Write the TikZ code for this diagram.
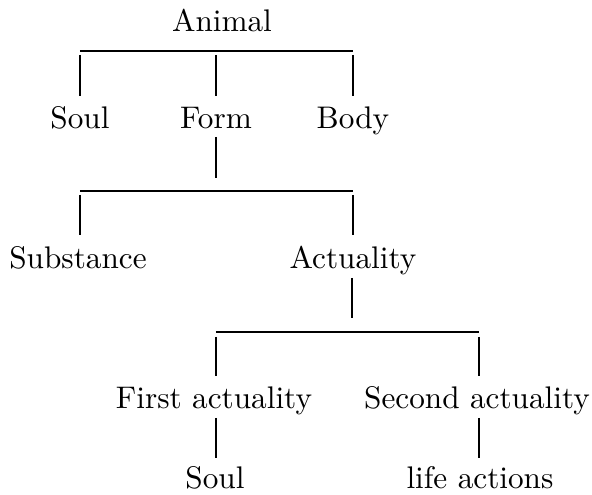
\documentclass[tikz,border=0pt]{standalone}
\begin{document}
\begin{tikzpicture}[x=0.32pt,y=-0.32pt,
  lbl/.style={anchor=base,inner sep=0pt,font=\fontsize{10}{12}\selectfont},
  conn/.style={line width=0.75pt,line cap=butt}]
\useasboundingbox (0,0) rectangle (592,495);
% labels
\node[lbl] (animal) at (222,32) {Animal};
\node[lbl] (soulA) at (80,129) {Soul};
\node[lbl] (form) at (216,129) {Form};
\node[lbl] (body) at (353,129) {Body};
\node[lbl] (subst) at (78,269) {Substance};
\node[lbl] (actual) at (353,269) {Actuality};
\node[lbl] (first) at (214,409) {First actuality};
\node[lbl] (second) at (477,409) {Second actuality};
\node[lbl] (soulB) at (215,489) {Soul};
\node[lbl] (life) at (480,489) {life actions};
% connector points
\coordinate (b1l) at (80,51);  \coordinate (b1r) at (353,51);
\coordinate (v1a) at (80,55);  \coordinate (v1ae) at (80,96);
\coordinate (v1b) at (216,55); \coordinate (v1be) at (216,96);
\coordinate (v1c) at (353,55); \coordinate (v1ce) at (353,96);
\coordinate (f1) at (216,137); \coordinate (f1e) at (216,178);
\coordinate (b2l) at (80,191); \coordinate (b2r) at (353,191);
\coordinate (v2a) at (80,195); \coordinate (v2ae) at (80,235);
\coordinate (v2b) at (353,195); \coordinate (v2be) at (353,235);
\coordinate (a1) at (352,278); \coordinate (a1e) at (352,318);
\coordinate (b3l) at (216,332); \coordinate (b3r) at (479,332);
\coordinate (v3a) at (216,337); \coordinate (v3ae) at (216,376);
\coordinate (v3b) at (479,337); \coordinate (v3be) at (479,376);
\coordinate (s1) at (216,418); \coordinate (s1e) at (216,458);
\coordinate (s2) at (479,418); \coordinate (s2e) at (479,458);
% connectors
\draw[conn] (b1l) -- (b1r);
\draw[conn] (v1a) -- (v1ae);
\draw[conn] (v1b) -- (v1be);
\draw[conn] (v1c) -- (v1ce);
\draw[conn] (f1) -- (f1e);
\draw[conn] (b2l) -- (b2r);
\draw[conn] (v2a) -- (v2ae);
\draw[conn] (v2b) -- (v2be);
\draw[conn] (a1) -- (a1e);
\draw[conn] (b3l) -- (b3r);
\draw[conn] (v3a) -- (v3ae);
\draw[conn] (v3b) -- (v3be);
\draw[conn] (s1) -- (s1e);
\draw[conn] (s2) -- (s2e);
\end{tikzpicture}
\end{document}
